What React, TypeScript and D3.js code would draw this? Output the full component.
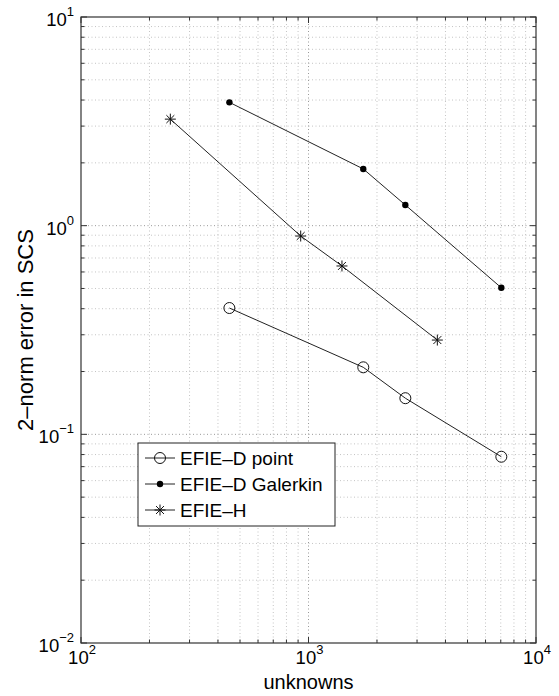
import React from "react";
import * as d3 from "d3";

// values
const unknownsPoint = [449, 1741, 2665, 7040];
const errorPoint = [0.403, 0.2095, 0.149, 0.0781];

const unknownsGalerkin = [449, 1741, 2665, 7040];
const errorGalerkin = [3.9, 1.87, 1.256, 0.504];

const unknownsH = [247, 924, 1403, 3684];
const errorH = [3.24, 0.892, 0.641, 0.283];

const xMajor = [100, 1000, 10000];
const xExp = ["2", "3", "4"];
const yMajor = [0.01, 0.1, 1, 10];
const yExp = ["\u22122", "\u22121", "0", "1"];

const legendNames = ["EFIE\u2013D point", "EFIE\u2013D Galerkin", "EFIE\u2013H"];

const width = 559;
const height = 696;
const margin = { top: 17, left: 81, right: 23, bottom: 53 };
const font = "'Liberation Sans', Arial, Helvetica, sans-serif";

function minors(lo: number, hi: number) {
  const out: number[] = [];
  for (let d = lo; d < hi; d *= 10) {
    for (let k = 2; k <= 9; k++) out.push(d * k);
  }
  return out;
}

function Marker({ kind, x, y }: { kind: string; x: number; y: number }) {
  if (kind === "circle")
    return <circle cx={x} cy={y} r={5.5} fill="none" stroke="#111" strokeWidth={1} />;
  if (kind === "dot") return <circle cx={x} cy={y} r={3.2} fill="#000" />;
  const s = 5.5;
  const t = s * 0.72;
  return (
    <g stroke="#111" strokeWidth={1}>
      <line x1={x - s} y1={y} x2={x + s} y2={y} />
      <line x1={x} y1={y - s} x2={x} y2={y + s} />
      <line x1={x - t} y1={y - t} x2={x + t} y2={y + t} />
      <line x1={x - t} y1={y + t} x2={x + t} y2={y - t} />
    </g>
  );
}

export default function App() {
  const iw = width - margin.left - margin.right;
  const ih = height - margin.top - margin.bottom;
  const x0 = margin.left;
  const y0 = margin.top;

  const x = d3.scaleLog().domain([100, 10000]).range([x0, x0 + iw]);
  const y = d3.scaleLog().domain([0.01, 10]).range([y0 + ih, y0]);

  const xMinor = minors(100, 10000);
  const yMinor = minors(0.01, 10);

  const line = d3
    .line<[number, number]>()
    .x((d) => x(d[0]))
    .y((d) => y(d[1]));

  const series = [
    { xs: unknownsPoint, ys: errorPoint, kind: "circle" },
    { xs: unknownsGalerkin, ys: errorGalerkin, kind: "dot" },
    { xs: unknownsH, ys: errorH, kind: "star" },
  ];

  const x1 = x0 + iw;
  const y1 = y0 + ih;

  // legend box
  const lg = { x: 138, y: 443, w: 197, h: 83 };

  return (
    <svg
      width={width}
      height={height}
      style={{ position: "absolute", left: 0, top: 0, background: "#fff" }}
      fontFamily={font}
    >
      <rect x={0} y={0} width={width} height={height} fill="#fff" />

      {/* grid */}
      <g>
        {xMinor.map((v, i) => (
          <line key={"gxm" + i} x1={x(v)} x2={x(v)} y1={y0} y2={y1} stroke="#c4c4c4" strokeDasharray="1 2.5" />
        ))}
        {yMinor.map((v, i) => (
          <line key={"gym" + i} x1={x0} x2={x1} y1={y(v)} y2={y(v)} stroke="#c4c4c4" strokeDasharray="1 2.5" />
        ))}
        {xMajor.slice(1, -1).map((v, i) => (
          <line key={"gx" + i} x1={x(v)} x2={x(v)} y1={y0} y2={y1} stroke="#999" strokeDasharray="1 2.5" />
        ))}
        {yMajor.slice(1, -1).map((v, i) => (
          <line key={"gy" + i} x1={x0} x2={x1} y1={y(v)} y2={y(v)} stroke="#999" strokeDasharray="1 2.5" />
        ))}
      </g>

      {/* ticks on all four sides */}
      <g stroke="#333" strokeWidth={1}>
        {xMinor.map((v, i) => (
          <g key={"txm" + i}>
            <line x1={x(v)} x2={x(v)} y1={y1} y2={y1 - 3.5} />
            <line x1={x(v)} x2={x(v)} y1={y0} y2={y0 + 3.5} />
          </g>
        ))}
        {yMinor.map((v, i) => (
          <g key={"tym" + i}>
            <line x1={x0} x2={x0 + 3.5} y1={y(v)} y2={y(v)} />
            <line x1={x1} x2={x1 - 3.5} y1={y(v)} y2={y(v)} />
          </g>
        ))}
        {xMajor.map((v, i) => (
          <g key={"tx" + i}>
            <line x1={x(v)} x2={x(v)} y1={y1} y2={y1 - 6} />
            <line x1={x(v)} x2={x(v)} y1={y0} y2={y0 + 6} />
          </g>
        ))}
        {yMajor.map((v, i) => (
          <g key={"ty" + i}>
            <line x1={x0} x2={x0 + 6} y1={y(v)} y2={y(v)} />
            <line x1={x1} x2={x1 - 6} y1={y(v)} y2={y(v)} />
          </g>
        ))}
      </g>

      <rect x={x0} y={y0} width={iw} height={ih} fill="none" stroke="#333" strokeWidth={1.2} />

      {/* tick labels */}
      <g fill="#000" fontSize={18.5}>
        {xMajor.map((v, i) => (
          <text key={"lx" + i} x={x(v) + 1} y={y1 + 21} textAnchor="middle">
            10
            <tspan fontSize={13} dy={-10}>
              {xExp[i]}
            </tspan>
          </text>
        ))}
        {yMajor.map((v, i) => (
          <text key={"ly" + i} x={74} y={y(v) + 9} textAnchor="end">
            10
            <tspan fontSize={13} dy={-10}>
              {yExp[i]}
            </tspan>
          </text>
        ))}
      </g>

      {/* axis labels */}
      <text x={x0 + iw / 2} y={689} textAnchor="middle" fontSize={20} fill="#000">
        unknowns
      </text>
      <text
        transform={`translate(33, ${y0 + ih / 2}) rotate(-90)`}
        textAnchor="middle"
        fontSize={22}
        fill="#000"
      >
        2{"\u2013"}norm error in SCS
      </text>

      {/* series */}
      {series.map((s, si) => {
        const pts = s.xs.map((v, i) => [v, s.ys[i]] as [number, number]);
        return (
          <g key={"s" + si}>
            <path d={line(pts) || ""} fill="none" stroke="#222" strokeWidth={1} />
            {pts.map((p, i) => (
              <Marker key={i} kind={s.kind} x={x(p[0])} y={y(p[1])} />
            ))}
          </g>
        );
      })}

      {/* legend */}
      <g>
        <rect x={lg.x} y={lg.y} width={lg.w} height={lg.h} fill="#fff" stroke="#222" strokeWidth={1} />
        {series.map((s, i) => {
          const cy = lg.y + 15 + i * 26;
          return (
            <g key={"lg" + i}>
              <line x1={lg.x + 7} x2={lg.x + 37} y1={cy} y2={cy} stroke="#222" strokeWidth={1} />
              <Marker kind={s.kind} x={lg.x + 22} y={cy} />
              <text x={lg.x + 42} y={cy + 7} fontSize={19} fill="#000">
                {legendNames[i]}
              </text>
            </g>
          );
        })}
      </g>
    </svg>
  );
}
